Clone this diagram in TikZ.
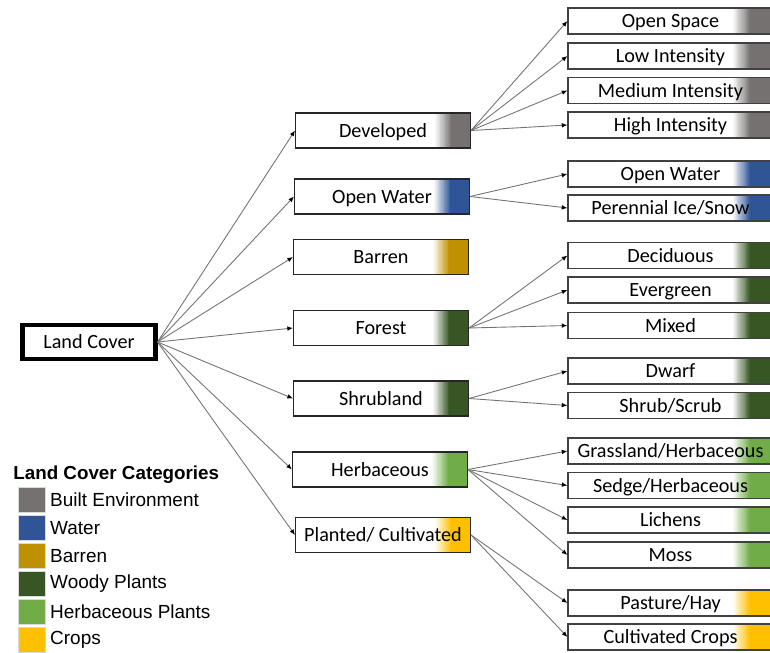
\documentclass[tikz,border=0pt]{standalone}
\usepackage{fontspec}
\setmainfont{Carlito}
\newfontfamily\legendfont{Liberation Sans}
\usepackage{xcolor}
\usetikzlibrary{positioning, arrows.meta}

\definecolor{builtgray}{HTML}{767171}
\definecolor{waterblue}{HTML}{2F5597}
\definecolor{barrengold}{HTML}{BF9000}
\definecolor{woodygreen}{HTML}{375623}
\definecolor{herbgreen}{HTML}{70AD47}
\definecolor{cropyellow}{HTML}{FFC000}

\newcommand{\boxfont}{\fontsize{11.5}{13}\selectfont}

\tikzset{
    shadebar/.style n args={3}{path picture={
        \foreach \k [evaluate=\k as \pc using int(5*\k)] in {1,...,20}
            \fill[#1!\pc!white] ([xshift=-#2+(\k-1)*(#2-#3)/20]path picture bounding box.south east) rectangle ([xshift=-#2+\k*(#2-#3)/20+0.2pt]path picture bounding box.north east);
        \fill[#1] ([xshift=-#3]path picture bounding box.south east) rectangle (path picture bounding box.north east);}},
    boxtext/.style={inner sep=0pt, font=\boxfont, text height=7.4pt, text depth=0pt},
    midbox/.style={draw=black!85, line width=0.6pt, minimum width=3.5cm, minimum height=0.7cm, boxtext, shadebar={#1}{0.7cm}{0.37cm}},
    leafbox/.style={draw=black!75, line width=0.7pt, minimum width=4.1cm, minimum height=0.52cm, boxtext, shadebar={#1}{0.8cm}{0.44cm}},
    link/.style={draw=black!55, line width=0.5pt, -{Latex[length=3.2pt, width=2.6pt, color=black]}},
    swatch/.style={draw=black!15, line width=0.4pt, minimum width=0.54cm, minimum height=0.5cm, inner sep=0pt}
}

\begin{document}
\begin{tikzpicture}[x=0.02cm, y=-0.02cm]
        \useasboundingbox (0, 0) rectangle (770, 652);
        % root
        \node[draw, line width=2.3pt, minimum width=2.66cm, minimum height=0.68cm, boxtext] (land) at (89, 342) {Land Cover};
        % classes
        \node[midbox=builtgray] (dev) at (383, 130.5) {Developed};
        \node[midbox=waterblue] (water) at (382, 196.5) {Open Water};
        \node[midbox=barrengold] (barren) at (381, 257) {Barren};
        \node[midbox=woodygreen] (forest) at (381, 328) {Forest};
        \node[midbox=woodygreen] (shrub) at (381, 398.5) {Shrubland};
        \node[midbox=herbgreen] (herb) at (380, 469.5) {Herbaceous};
        \node[midbox=cropyellow] (planted) at (383, 535) {Planted/ Cultivated};
        % subclasses
        \node[leafbox=builtgray] (openspace) at (670.5, 21) {Open Space};
        \node[leafbox=builtgray] (lowint) at (670.5, 56) {Low Intensity};
        \node[leafbox=builtgray] (medint) at (670.5, 90.5) {Medium Intensity};
        \node[leafbox=builtgray] (highint) at (670.5, 125) {High Intensity};
        \node[leafbox=waterblue] (openwater) at (670.5, 174) {Open Water};
        \node[leafbox=waterblue] (icesnow) at (670.5, 208) {Perennial Ice/Snow};
        \node[leafbox=woodygreen] (decid) at (670.5, 255.5) {Deciduous};
        \node[leafbox=woodygreen] (evergreen) at (670.5, 290) {Evergreen};
        \node[leafbox=woodygreen] (mixed) at (670.5, 325.5) {Mixed};
        \node[leafbox=woodygreen] (dwarf) at (670.5, 371) {Dwarf};
        \node[leafbox=woodygreen] (scrub) at (670.5, 405.5) {Shrub/Scrub};
        \node[leafbox=herbgreen] (grass) at (670.5, 451) {Grassland/Herbaceous};
        \node[leafbox=herbgreen] (sedge) at (670.5, 485.5) {Sedge/Herbaceous};
        \node[leafbox=herbgreen] (lichens) at (670.5, 520) {Lichens};
        \node[leafbox=herbgreen] (moss) at (670.5, 555) {Moss};
        \node[leafbox=cropyellow] (pasture) at (670.5, 603) {Pasture/Hay};
        \node[leafbox=cropyellow] (crops) at (670.5, 637) {Cultivated Crops};
        % connectors
        \foreach \m in {dev, water, barren, forest, shrub, herb, planted}
            \draw[link] (land.east) -- (\m.west);
        \foreach \l in {openspace, lowint, medint, highint}
            \draw[link] (dev.east) -- (\l.west);
        \foreach \l in {openwater, icesnow}
            \draw[link] (water.east) -- (\l.west);
        \foreach \l in {decid, evergreen, mixed}
            \draw[link] (forest.east) -- (\l.west);
        \foreach \l in {dwarf, scrub}
            \draw[link] (shrub.east) -- (\l.west);
        \foreach \l in {grass, sedge, lichens, moss}
            \draw[link] (herb.east) -- (\l.west);
        \foreach \l in {pasture, crops}
            \draw[link] (planted.east) -- (\l.west);
        % legend
        \node[anchor=west, inner sep=0pt, font=\legendfont\bfseries\fontsize{10.7}{13}\selectfont] (legtitle) at (13, 474.5) {Land Cover Categories};
        \foreach \c/\t [count=\i] in {builtgray/Built Environment, waterblue/Water, barrengold/Barren, woodygreen/Woody Plants, herbgreen/Herbaceous Plants, cropyellow/Crops} {
            \node[swatch, fill=\c] (sw\i) at (32, 472 + 28*\i) {};
            \node[right=0.08cm of sw\i, inner sep=0pt, font=\legendfont\fontsize{10.8}{13}\selectfont] (lg\i) {\t};
        }
    \end{tikzpicture}
\end{document}
